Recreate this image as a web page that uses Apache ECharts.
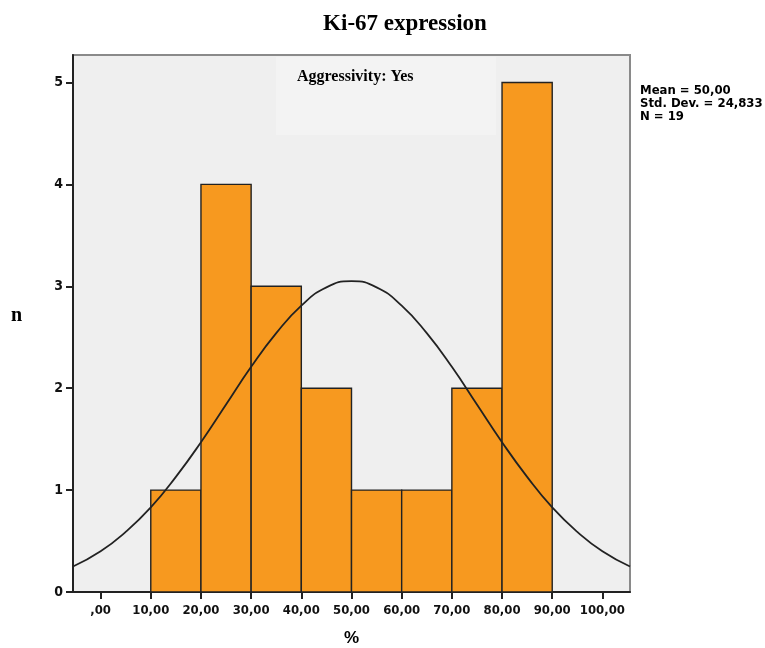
<!DOCTYPE html>
<html>
<head>
<meta charset="utf-8">
<title>Ki-67 expression</title>
<script src="https://cdn.jsdelivr.net/npm/echarts@6/dist/echarts.min.js"></script>
<style>
  html, body { margin: 0; padding: 0; background: #fff; }
  #main { width: 765px; height: 648px; }
</style>
</head>
<body>
<div id="main"></div>
<script>
// histogram bins (lower edge, upper edge) and counts
const binStart = [10, 20, 30, 40, 50, 60, 70, 80];
const binEnd = [20, 30, 40, 50, 60, 70, 80, 90];
const counts = [1, 4, 3, 2, 1, 1, 2, 5];

// normal curve
const curveX = [-5.5, 0, 5, 10, 15, 20, 25, 30, 35, 40, 45, 50, 55, 60, 65, 70, 75, 80, 85, 90, 95, 100, 105.5];
const curveY = [0.25, 0.40, 0.59, 0.83, 1.13, 1.47, 1.84, 2.21, 2.54, 2.81, 2.99, 3.05, 2.99, 2.81, 2.54, 2.21, 1.84, 1.47, 1.13, 0.83, 0.59, 0.40, 0.25];

const xTicks = [0, 10, 20, 30, 40, 50, 60, 70, 80, 90, 100];
const yTicks = [0, 1, 2, 3, 4, 5];
const statsLines = ['Mean = 50,00', 'Std. Dev. = 24,833', 'N = 19'];

const chart = echarts.init(document.getElementById('main'));

const histData = binStart.map((s, i) => [s, binEnd[i], counts[i]]);
const curveData = curveX.map((x, i) => [x, curveY[i]]);

const tickFont = '"Liberation Sans Narrow", "DejaVu Sans Condensed", sans-serif';

const option = {
  animation: false,
  title: {
    text: 'Ki-67 expression',
    left: 400,
    textAlign: 'center',
    top: 8,
    textStyle: {
      fontFamily: 'Liberation Serif',
      fontWeight: 'bold',
      fontSize: 23,
      color: '#000'
    }
  },
  grid: {
    left: 73, right: 135, top: 55, bottom: 56,
    outerBoundsMode: 'none',
    containLabel: false,
    show: true,
    backgroundColor: '#efefef',
    borderColor: '#8a8a8a',
    borderWidth: 2
  },
  xAxis: {
    type: 'value',
    min: -5.5,
    max: 105.5,
    name: '%',
    nameLocation: 'middle',
    nameGap: 38,
    nameTextStyle: { fontFamily: 'Liberation Sans', fontWeight: 'bold', fontSize: 17, color: '#000' },
    splitLine: { show: false },
    axisLine: { onZero: false, lineStyle: { color: '#222', width: 2 } },
    axisTick: { customValues: xTicks, length: 7, lineStyle: { color: '#222', width: 2 } },
    axisLabel: {
      customValues: xTicks,
      margin: 12,
      fontFamily: tickFont,
      fontWeight: 'bold',
      fontSize: 13,
      color: '#111',
      formatter: v => (v === 0 ? ',00' : v + ',00')
    }
  },
  yAxis: {
    type: 'value',
    min: 0,
    max: 5.27,
    splitLine: { show: false },
    axisLine: { show: true, onZero: false, lineStyle: { color: '#222', width: 2 } },
    axisTick: { show: true, customValues: yTicks, length: 7, lineStyle: { color: '#222', width: 2 } },
    axisLabel: {
      customValues: yTicks,
      margin: 10,
      fontFamily: tickFont,
      fontWeight: 'bold',
      fontSize: 14,
      color: '#111'
    }
  },
  graphic: [
    {
      type: 'rect',
      z: 0,
      shape: { x: 276, y: 57, width: 220, height: 78 },
      style: { fill: '#f3f3f3' }
    },
    {
      type: 'text',
      z: 5,
      left: 297, top: 69,
      style: {
        text: 'Aggressivity: Yes',
        font: 'bold 16px "Liberation Serif"',
        fill: '#000'
      }
    },
    {
      type: 'text',
      z: 5,
      left: 11, top: 306,
      style: {
        text: 'n',
        font: 'bold 20px "Liberation Serif"',
        fill: '#000'
      }
    },
    {
      type: 'text',
      z: 5,
      left: 640, top: 84,
      style: {
        text: statsLines.join('\n'),
        font: 'bold 13px "Liberation Sans Narrow", "DejaVu Sans Condensed", sans-serif',
        lineHeight: 13,
        fill: '#000'
      }
    }
  ],
  series: [
    {
      type: 'custom',
      z: 2,
      renderItem: function (params, api) {
        const p0 = api.coord([api.value(0), api.value(2)]);
        const p1 = api.coord([api.value(1), 0]);
        return {
          type: 'rect',
          shape: { x: p0[0], y: p0[1], width: p1[0] - p0[0], height: p1[1] - p0[1] },
          style: { fill: '#F7991F', stroke: '#222', lineWidth: 1.4 }
        };
      },
      encode: { x: [0, 1], y: 2 },
      data: histData
    },
    {
      type: 'line',
      z: 3,
      data: curveData,
      smooth: true,
      showSymbol: false,
      lineStyle: { color: '#222', width: 1.8 }
    }
  ]
};

chart.setOption(option);
</script>
</body>
</html>
